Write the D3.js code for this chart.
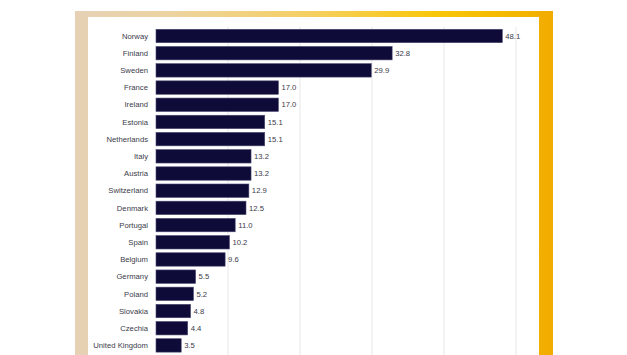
<!DOCTYPE html>
<html>
<head>
<meta charset="utf-8">
<script src="https://cdn.jsdelivr.net/npm/d3@7"></script>
<style>
html,body{margin:0;padding:0;background:#fff;}
svg{display:block;}
</style>
</head>
<body>
<svg id="chart" width="627" height="355"></svg>
<script>
const categories = ["Norway","Finland","Sweden","France","Ireland","Estonia","Netherlands","Italy","Austria","Switzerland","Denmark","Portugal","Spain","Belgium","Germany","Poland","Slovakia","Czechia","United Kingdom"];
const values = [48.1,32.8,29.9,17.0,17.0,15.1,15.1,13.2,13.2,12.9,12.5,11.0,10.2,9.6,5.5,5.2,4.8,4.4,3.5];
const gridTicks = [10,20,30,40,50];

const svg = d3.select("#chart");
const W = 627, H = 355;

// frame with gradient border
const defs = svg.append("defs");
const grad = defs.append("linearGradient").attr("id","frameGrad")
  .attr("x1","0%").attr("x2","100%").attr("y1","0%").attr("y2","0%");
[["0%","#e6d1b6"],["20%","#ecd3a0"],["50%","#f5d060"],["75%","#f8c70a"],["92%","#f4b700"],["100%","#f2ab00"]]
  .forEach(([o,c])=>grad.append("stop").attr("offset",o).attr("stop-color",c));

const fx0 = 75, fx1 = 553, fy0 = 11;
svg.append("rect").attr("x",fx0).attr("y",fy0).attr("width",fx1-fx0).attr("height",H-fy0+5).attr("fill","url(#frameGrad)");
const ix0 = 88, ix1 = 539, iy0 = 17;
svg.append("rect").attr("x",ix0).attr("y",iy0).attr("width",ix1-ix0).attr("height",H-iy0+5).attr("fill","#ffffff");

const x = d3.scaleLinear().domain([0,53.2]).range([156,539]);
const y = d3.scaleBand().domain(categories).range([27.4, 27.4+19*17.19]).paddingInner(0.22).paddingOuter(0.11);

// gridlines
svg.append("g").selectAll("line").data(gridTicks).join("line")
  .attr("x1",d=>x(d)).attr("x2",d=>x(d))
  .attr("y1",27).attr("y2",H)
  .attr("stroke","#e8e8e8").attr("stroke-width",1);

// bars
svg.append("g").selectAll("rect").data(categories).join("rect")
  .attr("x",x(0))
  .attr("y",d=>y(d))
  .attr("width",(d,i)=>x(values[i])-x(0))
  .attr("height",y.bandwidth())
  .attr("fill","#0e0b38")
  .attr("stroke","#4a4870").attr("stroke-width",0.6);

// category labels
svg.append("g").selectAll("text").data(categories).join("text")
  .attr("x",148)
  .attr("y",d=>y(d)+y.bandwidth()/2)
  .attr("dy","0.35em")
  .attr("text-anchor","end")
  .attr("font-family","Liberation Sans, Arial, sans-serif")
  .attr("font-size","7.7px")
  .attr("fill","#3b3b4a")
  .text(d=>d);

// value labels
svg.append("g").selectAll("text").data(categories).join("text")
  .attr("x",(d,i)=>x(values[i])+3)
  .attr("y",d=>y(d)+y.bandwidth()/2)
  .attr("dy","0.35em")
  .attr("font-family","Liberation Sans, Arial, sans-serif")
  .attr("font-size","7.7px")
  .attr("fill","#3b3b4a")
  .text((d,i)=>values[i].toFixed(1));
</script>
</body>
</html>
